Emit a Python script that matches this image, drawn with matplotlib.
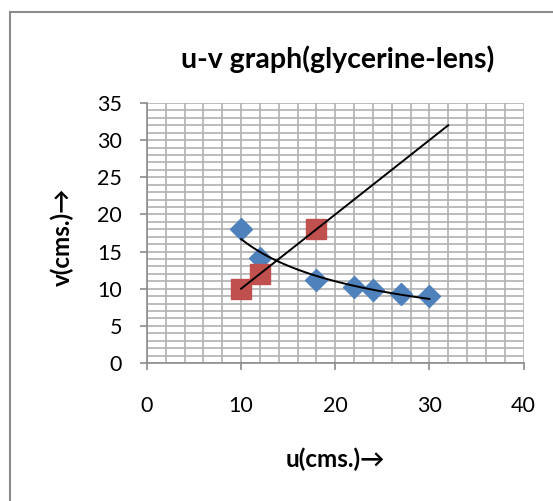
import numpy as np
import matplotlib.pyplot as plt
from matplotlib.patches import Rectangle
from matplotlib.ticker import MultipleLocator

# readings
u_blue = [10, 12, 18, 22, 24, 27, 30]
v_blue = [18, 14.1, 11.2, 10.2, 9.8, 9.3, 9.0]
u_red = [10, 12, 18]
v_red = [10, 12, 18]

x_ticks = [0, 10, 20, 30, 40]
y_ticks = [0, 5, 10, 15, 20, 25, 30, 35]

blue = '#4F81BD'
red = '#C0504D'
grid_col = '#b0b0b0'

plt.rcParams['font.family'] = ['Lato', 'DejaVu Sans']

fig = plt.figure(figsize=(5.53, 5.01), dpi=100)
fig.patches.append(Rectangle((10 / 553, -0.1), 1.2, 1 - 12 / 501 + 0.1,
                             transform=fig.transFigure, fill=False,
                             edgecolor='#8c8c8c', lw=1.5))

ax = fig.add_axes([147 / 553, 1 - 363 / 501, (523.5 - 147) / 553, (363 - 103) / 501])

ax.set_xlim(0, 40)
ax.set_ylim(0, 35)
ax.set_xticks(x_ticks)
ax.set_yticks(y_ticks)
ax.xaxis.set_minor_locator(MultipleLocator(2))
ax.yaxis.set_minor_locator(MultipleLocator(1))
ax.grid(True, which='both', color=grid_col, lw=1.2)
ax.set_axisbelow(True)
for s in ['top', 'right']:
    ax.spines[s].set_visible(False)
for s in ['left', 'bottom']:
    ax.spines[s].set_color('#8c8c8c')
    ax.spines[s].set_linewidth(1.2)
ax.tick_params(which='major', length=5, width=1.2, color='#8c8c8c',
               labelsize=15.5)
ax.tick_params(axis='x', which='major', pad=19)
ax.tick_params(axis='y', which='major', pad=13)
ax.tick_params(which='minor', length=0)

ax.plot(u_blue, v_blue, 'D', color=blue, ms=11, mec=blue, zorder=3)
ax.plot(u_red, v_red, 's', color=red, ms=14, mec=red, zorder=4)

# power trendline for the blue points
b, loga = np.polyfit(np.log(u_blue), np.log(v_blue), 1)
uu = np.linspace(min(u_blue), max(u_blue), 100)
ax.plot(uu, np.exp(loga) * uu ** b, color='black', lw=1.4, zorder=5)

# linear trendline for the red points, forecast forward
m, c = np.polyfit(u_red, v_red, 1)
ul = np.array([min(u_red), 32])
ax.plot(ul, m * ul + c, color='black', lw=1.4, zorder=5)

fig.text(338 / 553, 1 - 59 / 501, 'u-v graph(glycerine-lens)', ha='center',
         va='center', fontsize=20.5, fontweight='bold')
fig.text(335 / 553, 1 - 459 / 501, 'u(cms.)\u2192', ha='center', va='center',
         fontsize=17.5, fontweight='bold')
fig.text(62 / 553, 1 - 237 / 501, 'v(cms.)\u2192', ha='center', va='center',
         fontsize=17.5, fontweight='bold', rotation=90)

fig.savefig('out.png', dpi=100)
